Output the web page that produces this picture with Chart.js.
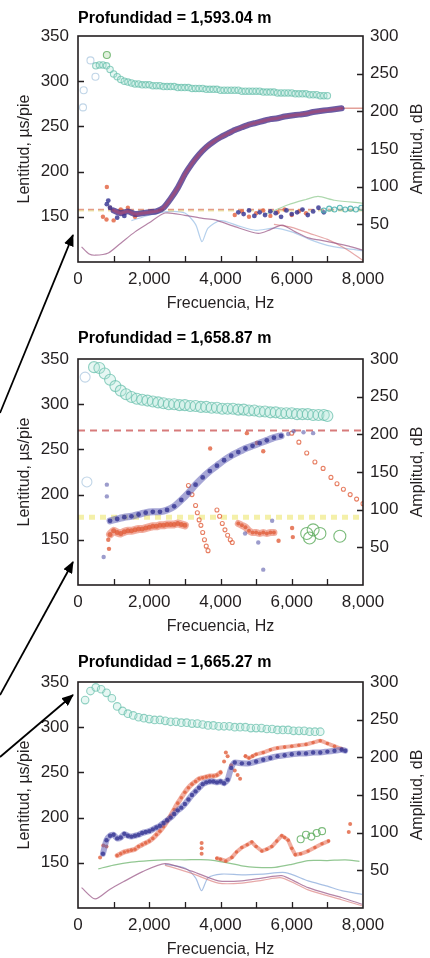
<!DOCTYPE html>
<html>
<head>
<meta charset="utf-8">
<script src="https://cdn.jsdelivr.net/npm/chart.js@4"></script>
<style>
  html, body { margin: 0; padding: 0; background: #fff; }
  body { width: 430px; height: 958px; position: relative; overflow: hidden; }
  .panel { position: absolute; left: 0; width: 430px; height: 312px; }
  #arrows { position: absolute; left: 0; top: 0; pointer-events: none; }
</style>
</head>
<body>
<div class="panel" style="top:0"><canvas id="c1" width="430" height="312"></canvas></div>
<div class="panel" style="top:323px"><canvas id="c2" width="430" height="312"></canvas></div>
<div class="panel" style="top:646px"><canvas id="c3" width="430" height="312"></canvas></div>

<!-- pointer arrows coming in from the (cropped) log on the left -->
<svg id="arrows" width="430" height="958">
  <defs>
    <marker id="ah" markerWidth="12" markerHeight="10" refX="11" refY="5" orient="auto" markerUnits="userSpaceOnUse">
      <path d="M0,0 L12,5 L0,10 z" fill="#000"/>
    </marker>
  </defs>
  <line x1="0" y1="413" x2="73" y2="235" stroke="#000" stroke-width="1.8" marker-end="url(#ah)"/>
  <line x1="0" y1="695" x2="73" y2="562" stroke="#000" stroke-width="1.8" marker-end="url(#ah)"/>
  <line x1="0" y1="757" x2="73" y2="695" stroke="#000" stroke-width="1.8" marker-end="url(#ah)"/>
</svg>

<script>
/* ── shared axis values ── */
const FREQ_RANGE = [0, 8000];
const SLOW_RANGE = [100, 350];
const AMP_RANGE = [0, 300];

/* ── Panel 1 — Profundidad = 1,593.04 m ── */
const p1TealHz   = [500,600,700,800,900,1000,1100,1200,1300,1400,1500,1600,1700,1800,1900,2000,2100,2200,2300,2400,2500,2600,2700,2800,2900,3000,3100,3200,3300,3400,3500,3600,3700,3800,3900,4000,4100,4200,4300,4400,4500,4600,4700,4800,4900,5000,5100,5200,5300,5400,5500,5600,5700,5800,5900,6000,6100,6200,6300,6400,6500,6600,6700,6800,6900,7000];
const p1TealSlow = [317,318,318,317,313,308,305,302,300,299,298,297,297,296,296,296,295,295,295,294,294,294,294,293,293,293,293,292,292,292,292,291,291,291,291,290,290,290,290,290,290,289,289,289,289,289,289,288,288,288,288,287,287,287,287,287,286,286,286,286,285,285,285,284,284,284];
const p1FaintHz   = [140,160,350,490];
const p1FaintSlow = [271,290,323,305];
const p1GreenHz   = [810];
const p1GreenSlow = [329];
const p1CurveHz   = [1000,1200,1400,1600,1800,2000,2200,2400,2600,2800,3000,3200,3400,3600,3800,4000,4200,4400,4600,4800,5000,5200,5400,5600,5800,6000,6200,6400,6600,6800,7000,7200,7400];
const p1CurveSlow = [157,154,156,153,154,155,156,160,170,182,197,209,219,227,233,238,242,246,249,252,254,256,258,259,261,262,263,264,266,267,268,269,270];
const p1TailHz   = [7400,8000];
const p1TailSlow = [270,270];
const p1BlueNoiseHz   = [810,850,900,1100,1300,4500,4650,4800,4950,5100,5250,5400,5550,5700,5850,6000,6150,6300,6450,6600,6750,6900];
const p1BlueNoiseSlow = [164,168,160,149,151,155,153,157,151,155,152,156,154,150,157,153,155,158,152,156,160,155];
const p1RedNoiseHz   = [700,800,810,900,1000,1200,1400,1600,4400,4600,4800,5000,5200,5400,5600,5800,6000,6200,6400];
const p1RedNoiseSlow = [150,147,183,160,146,158,160,150,152,156,150,154,157,151,155,158,152,156,154];
const p1TealTailHz   = [6900,7050,7200,7350,7500,7650,7800,7950];
const p1TealTailSlow = [157,159,158,160,158,159,158,160];
const p1RedDash = 158;
const p1YellowDash = 157;
const p1AmpPurpleHz = [100,300,480,850,1200,1600,2000,2440,3000,3500,3850,4400,5060,5400,5730,6100,6460,6800,7220,7600,7980];
const p1AmpPurpleDb = [20,11,9,12,25,40,52,65,62,58,56,47,38,43,49,40,32,29,25,21,16];
const p1AmpRedHz = [5500,6000,6500,7000,7500,8000];
const p1AmpRedDb = [50,46,38,30,18,2];
const p1AmpBlueHz = [1500,2000,2500,3000,3300,3480,3650,4000,4500,5000,5500,6000,6500,7000,7500,8000];
const p1AmpBlueDb = [55,62,67,65,50,27,45,55,48,42,45,40,30,22,18,15];
const p1AmpGreenHz = [5200,5900,6400,6740,7200,8000];
const p1AmpGreenDb = [62,76,83,87,82,78];

/* ── Panel 2 — Profundidad = 1,658.87 m ── */
const p2TealHz   = [450,600,750,900,1050,1200,1350,1500,1650,1800,1950,2100,2250,2400,2550,2700,2850,3000,3150,3300,3450,3600,3750,3900,4050,4200,4350,4500,4650,4800,4950,5100,5250,5400,5550,5700,5850,6000,6150,6300,6450,6600,6750,6900,7000];
const p2TealSlow = [341,340,334,327,320,315,311,308,306,305,304,303,302,301,300,300,299,299,298,298,297,297,296,296,295,295,295,294,294,293,293,292,292,291,291,290,290,290,289,289,289,288,288,288,287];
const p2FaintHz   = [200,250];
const p2FaintSlow = [330,214];
const p2BlueHz   = [900,1100,1300,1500,1700,1900,2100,2300,2500,2700,2900,3100,3300,3500,3700,3900,4100,4300,4500,4700,4900,5100,5300,5500,5700];
const p2BlueSlow = [171,173,175,176,178,180,181,181,183,187,194,202,211,219,226,232,238,243,247,251,254,257,260,263,265];
const p2BlueSparseHz   = [810,810,720,4690,5060,5200,5450,5900,6050,6330,6600];
const p2BlueSparseSlow = [211,198,131,157,147,117,171,267,270,269,268];
const p2RedHz   = [900,1000,1100,1200,1300,1400,1500,1600,1700,1800,1900,2000,2100,2200,2300,2400,2500,2600,2700,2800,2900,3000];
const p2RedSlow = [156,160,158,157,159,160,160,161,162,162,163,164,165,165,166,166,167,167,167,168,167,166];
const p2ClusterHz   = [4500,4600,4700,4800,4900,5000,5100,5200,5300,5400,5500];
const p2ClusterSlow = [168,166,164,160,158,158,157,158,157,158,158];
const p2StreakHz   = [3100,3200,3300,3350,3400,3450,3500,3550,3600,3650,3900,3975,4050,4125,4200,4275,4330,6000,6200,6420,6650,6880,7100,7270,7450,7640,7820,8000];
const p2StreakSlow = [210,200,188,180,172,166,158,150,143,138,183,176,168,161,155,150,147,268,258,246,236,229,219,212,206,200,195,190];
const p2RedSparseHz   = [850,870,3710,4740,5020,5200,5630,6010,6030];
const p2RedSparseSlow = [150,140,251,268,257,248,149,163,153];
const p2GreenHz   = [6420,6500,6600,6790,7350];
const p2GreenSlow = [157,152,161,157,154];
const p2RedDash = 271;
const p2YellowDash = 175;

/* ── Panel 3 — Profundidad = 1,665.27 m ── */
const p3TealHz   = [200,350,500,650,800,950,1100,1250,1400,1550,1700,1850,2000,2150,2300,2450,2600,2750,2900,3050,3200,3350,3500,3650,3800,3950,4100,4250,4400,4550,4700,4850,5000,5150,5300,5450,5600,5750,5900,6050,6200,6350,6500,6650,6800];
const p3TealSlow = [330,340,344,342,338,332,323,318,315,313,311,310,309,308,308,307,306,306,305,305,304,304,303,302,302,301,301,301,300,300,300,299,299,299,298,298,297,297,297,296,296,296,295,295,295];
const p3BlueHz   = [700,800,900,1000,1100,1200,1300,1400,1500,1600,1700,1800,1900,2000,2100,2200,2300,2400,2500,2600,2700,2800,2900,3000,3100,3200,3300,3400,3500,3600,3700,3800,3900,4000,4100,4200,4300,4400,4600,4800,5000,5200,5400,5600,5800,6000,6200,6400,6600,6800,7000,7200,7400,7500];
const p3BlueSlow = [160,175,180,181,177,178,182,180,179,180,181,183,184,185,187,189,191,194,197,200,204,208,211,215,220,225,229,233,237,239,240,240,239,240,238,242,255,261,260,260,262,264,266,268,269,270,271,271,272,272,273,274,275,274];
const p3RedHz   = [1100,1200,1300,1400,1500,1600,1700,1800,1900,2000,2100,2200,2300,2400,2500,2600,2700,2800,2900,3000,3100,3200,3300,3400,3500,3600,3700,3800,3900,4000];
const p3RedSlow = [158,160,162,163,164,165,168,170,172,174,177,181,185,190,196,202,209,216,222,228,233,237,240,243,244,245,246,246,247,250];
const p3RedHighHz   = [4700,4800,4900,5000,5200,5400,5600,5800,6000,6200,6400,6600,6800,7000,7200,7400];
const p3RedHighSlow = [268,266,268,270,272,275,277,278,279,280,281,283,285,282,279,276];
const p3SpikeHz   = [4100,4150,4200,4300,4400,4480,4550];
const p3SpikeSlow = [262,272,268,258,252,247,243];
const p3RedLowHz   = [3900,4000,4150,4320,4450,4600,4750,4880,5000,5160,5300,5440,5580,5720,5800,5900,6000,6100,6250,6460,6650,6850,7030];
const p3RedLowSlow = [155,154,152,156,162,167,170,173,168,163,165,168,174,180,178,175,166,159,160,163,167,171,174];
const p3RedSparseHz   = [620,710,800,3470,3470,3470,7600,7640];
const p3RedSparseSlow = [156,169,168,172,166,160,184,193];
const p3GreenHz   = [6250,6400,6550,6700,6850];
const p3GreenSlow = [176,181,179,183,185];
const p3AmpGreenHz = [570,1000,1500,2000,2500,3000,3650,4200,4600,5000,5530,6000,6460,7000,7500,7900];
const p3AmpGreenDb = [52,57,61,63,64,64,64,60,56,54,54,58,63,63,64,62];
const p3AmpPurpleHz = [100,480,900,1320,1800,2440,3190,3940,4600,5200,5720,6100,6460,7000,7400,7970];
const p3AmpPurpleDb = [27,12,25,36,48,59,49,36,36,40,43,35,27,19,14,5];
const p3AmpRedHz = [2440,3190,3940,4600,5200,5720,6460,7400,7970];
const p3AmpRedDb = [57,46,33,33,37,40,24,11,3];
const p3AmpBlueHz = [2440,3000,3300,3470,3650,4030,4600,5200,5820,6460,7000,7400,7970];
const p3AmpBlueDb = [58,53,40,23,40,45,44,45,47,36,29,23,18];

/* ── styling ── */
const FONT = "'Liberation Sans', Arial, sans-serif";
const INK = '#231f20';
const TEAL = 'rgba(100,190,170,0.7)', TEAL_FILL = 'rgba(175,228,214,0.3)';
const FAINT = 'rgba(150,185,215,0.6)';
const GREEN = 'rgba(100,175,100,0.85)';
const BLUE = 'rgba(60,60,150,0.85)', BLUE_BAND = 'rgba(95,95,180,0.55)';
const RED = 'rgba(225,95,60,0.8)', RED_BAND = 'rgba(230,105,80,0.55)';

Chart.defaults.font.family = FONT;
Chart.defaults.color = INK;

function pts(hz, v) { return hz.map((x, i) => ({ x, y: v[i] })); }
function rings(hz, v, stroke, fill, r) {
  return { data: pts(hz, v), showLine: false, pointRadius: r, pointBorderWidth: 1.1,
    pointBorderColor: stroke, pointBackgroundColor: fill, yAxisID: 'y' };
}
function dots(hz, v, color, r) {
  return { data: pts(hz, v), showLine: false, pointRadius: r, pointBorderWidth: 0,
    pointBackgroundColor: color, yAxisID: 'y' };
}
function band(hz, v, color, w, tension = 0.2) {
  return { data: pts(hz, v), showLine: true, borderColor: color, borderWidth: w, pointRadius: 0,
    tension, borderCapStyle: 'round', borderJoinStyle: 'round', yAxisID: 'y' };
}
function amp(hz, v, color) {
  return { data: pts(hz, v), showLine: true, borderColor: color, borderWidth: 1.2, pointRadius: 0,
    tension: 0.25, yAxisID: 'y2' };
}
function hline(val, color, w, dash) {
  return { data: pts(FREQ_RANGE, [val, val]), showLine: true, borderColor: color, borderWidth: w,
    borderDash: dash, pointRadius: 0, yAxisID: 'y' };
}

// frame, inward tick marks, right-hand title, panel heading
const deco = {
  id: 'deco',
  afterDraw(chart, args, opts) {
    const { ctx, chartArea: a, scales } = chart;
    ctx.save();
    ctx.strokeStyle = INK;
    ctx.lineWidth = 1.6;
    ctx.strokeRect(a.left, a.top, a.right - a.left, a.bottom - a.top);
    ctx.lineWidth = 1.3;
    ctx.beginPath();
    scales.x.ticks.forEach(t => {
      if (t.value <= scales.x.min || t.value >= scales.x.max) return;
      const px = Math.round(scales.x.getPixelForValue(t.value)) + 0.5;
      ctx.moveTo(px, a.bottom); ctx.lineTo(px, a.bottom - 6);
    });
    scales.y.ticks.forEach(t => {
      if (t.value <= scales.y.min || t.value >= scales.y.max) return;
      const py = Math.round(scales.y.getPixelForValue(t.value)) + 0.5;
      ctx.moveTo(a.left, py); ctx.lineTo(a.left + 6, py);
    });
    scales.y2.ticks.forEach(t => {
      if (t.value <= scales.y2.min || t.value >= scales.y2.max) return;
      const py = Math.round(scales.y2.getPixelForValue(t.value)) + 0.5;
      ctx.moveTo(a.right, py); ctx.lineTo(a.right - 6, py);
    });
    ctx.stroke();

    ctx.fillStyle = INK;
    ctx.font = `16px ${FONT}`;
    ctx.textAlign = 'center';
    ctx.textBaseline = 'middle';
    ctx.translate(418, (a.top + a.bottom) / 2);
    ctx.rotate(-Math.PI / 2);
    ctx.fillText('Amplitud, dB', 0, 0);
    ctx.restore();

    ctx.save();
    ctx.fillStyle = '#000';
    ctx.font = `bold 16px ${FONT}`;
    ctx.textAlign = 'left';
    ctx.textBaseline = 'middle';
    ctx.fillText(opts.title, a.left, opts.titleY);
    ctx.restore();
  }
};

function buildPanel(id, title, titleY, layers) {
  new Chart(document.getElementById(id), {
    type: 'scatter',
    data: { datasets: layers.slice().reverse() },   // first layer = bottom
    options: {
      responsive: false,
      animation: false,
      events: [],
      layout: { padding: { top: 36, left: 0, right: 0, bottom: 0 } },
      plugins: {
        legend: { display: false },
        tooltip: { enabled: false },
        deco: { title, titleY },
      },
      scales: {
        x: {
          type: 'linear', position: 'bottom', min: FREQ_RANGE[0], max: FREQ_RANGE[1],
          grid: { display: false, drawTicks: false },
          border: { display: false },
          ticks: {
            stepSize: 1000, autoSkip: false, maxRotation: 0, padding: 7, color: INK,
            font: { size: 17 },
            callback: v => (v % 2000 === 0 ? v.toLocaleString('en-US') : ''),
          },
          title: { display: true, text: 'Frecuencia, Hz', color: INK, padding: 0, font: { size: 16, lineHeight: 1 } },
          afterFit: s => { s.height = 50; },
        },
        y: {
          type: 'linear', position: 'left', min: SLOW_RANGE[0], max: SLOW_RANGE[1],
          grid: { display: false, drawTicks: false },
          border: { display: false },
          ticks: { stepSize: 50, padding: 9, color: INK, font: { size: 17 },
            callback: v => (v === SLOW_RANGE[0] ? '' : v) },
          title: { display: true, text: 'Lentitud, µs/pie', color: INK, padding: { top: 17, bottom: 0 },
            font: { size: 16, lineHeight: 1 } },
          afterFit: s => { s.width = 78; },
        },
        y2: {
          type: 'linear', position: 'right', min: AMP_RANGE[0], max: AMP_RANGE[1],
          grid: { display: false, drawTicks: false },
          border: { display: false },
          ticks: { stepSize: 50, padding: 7, color: INK, font: { size: 17 },
            callback: v => (v === AMP_RANGE[0] ? '' : v) },
          afterFit: s => { s.width = 67; },
        },
      },
    },
    plugins: [deco],
  });
}

buildPanel('c1', 'Profundidad = 1,593.04 m', 19, [
  amp(p1AmpBlueHz, p1AmpBlueDb, 'rgba(120,170,220,0.55)'),
  amp(p1AmpGreenHz, p1AmpGreenDb, 'rgba(120,190,120,0.6)'),
  amp(p1AmpRedHz, p1AmpRedDb, 'rgba(215,110,110,0.6)'),
  amp(p1AmpPurpleHz, p1AmpPurpleDb, 'rgba(150,80,130,0.7)'),
  hline(p1YellowDash, 'rgba(225,215,120,0.6)', 2, [6, 4]),
  hline(p1RedDash, 'rgba(220,120,100,0.7)', 1.5, [6, 4]),
  rings(p1FaintHz, p1FaintSlow, FAINT, 'rgba(255,255,255,0)', 3.5),
  rings(p1GreenHz, p1GreenSlow, GREEN, 'rgba(180,220,170,0.4)', 3.5),
  rings(p1TealHz, p1TealSlow, TEAL, TEAL_FILL, 3.2),
  dots(p1RedNoiseHz, p1RedNoiseSlow, RED, 2.2),
  dots(p1BlueNoiseHz, p1BlueNoiseSlow, BLUE, 2.4),
  rings(p1TealTailHz, p1TealTailSlow, 'rgba(60,170,170,0.8)', TEAL_FILL, 2.5),
  band(p1TailHz, p1TailSlow, 'rgba(215,120,110,0.7)', 1.5),
  band(p1CurveHz, p1CurveSlow, 'rgba(70,50,140,0.8)', 6),
  band(p1CurveHz, p1CurveSlow, 'rgba(200,60,90,0.45)', 3),
]);

buildPanel('c2', 'Profundidad = 1,658.87 m', 16, [
  hline(p2YellowDash, 'rgba(240,235,140,0.75)', 5, [6, 5]),
  hline(p2RedDash, 'rgba(205,90,90,0.8)', 2, [7, 5]),
  rings(p2FaintHz, p2FaintSlow, FAINT, 'rgba(255,255,255,0)', 5),
  rings(p2TealHz, p2TealSlow, TEAL, TEAL_FILL, 5.5),
  rings(p2GreenHz, p2GreenSlow, GREEN, 'rgba(255,255,255,0)', 6),
  band(p2RedHz, p2RedSlow, RED_BAND, 8),
  dots(p2RedHz, p2RedSlow, RED, 2.5),
  band(p2ClusterHz, p2ClusterSlow, RED_BAND, 7),
  dots(p2ClusterHz, p2ClusterSlow, RED, 2),
  rings(p2StreakHz, p2StreakSlow, RED, 'rgba(255,255,255,0)', 2),
  dots(p2RedSparseHz, p2RedSparseSlow, RED, 2.2),
  band(p2BlueHz, p2BlueSlow, BLUE_BAND, 7),
  dots(p2BlueHz, p2BlueSlow, BLUE, 2.4),
  dots(p2BlueSparseHz, p2BlueSparseSlow, 'rgba(90,90,170,0.6)', 2.2),
]);

buildPanel('c3', 'Profundidad = 1,665.27 m', 17, [
  amp(p3AmpBlueHz, p3AmpBlueDb, 'rgba(110,150,210,0.6)'),
  amp(p3AmpRedHz, p3AmpRedDb, 'rgba(215,110,110,0.6)'),
  amp(p3AmpPurpleHz, p3AmpPurpleDb, 'rgba(150,80,130,0.7)'),
  amp(p3AmpGreenHz, p3AmpGreenDb, 'rgba(110,180,110,0.75)'),
  rings(p3TealHz, p3TealSlow, TEAL, TEAL_FILL, 3.8),
  rings(p3GreenHz, p3GreenSlow, GREEN, 'rgba(255,255,255,0)', 3.5),
  band(p3RedLowHz, p3RedLowSlow, RED_BAND, 4, 0),
  dots(p3RedLowHz, p3RedLowSlow, RED, 1.8),
  band(p3RedHz, p3RedSlow, RED_BAND, 5),
  dots(p3RedHz, p3RedSlow, RED, 1.8),
  band(p3RedHighHz, p3RedHighSlow, RED_BAND, 4),
  dots(p3RedHighHz, p3RedHighSlow, RED, 1.8),
  dots(p3SpikeHz, p3SpikeSlow, RED, 2),
  dots(p3RedSparseHz, p3RedSparseSlow, RED, 2),
  band(p3BlueHz, p3BlueSlow, BLUE_BAND, 6),
  dots(p3BlueHz, p3BlueSlow, BLUE, 2.2),
]);
</script>
</body>
</html>
